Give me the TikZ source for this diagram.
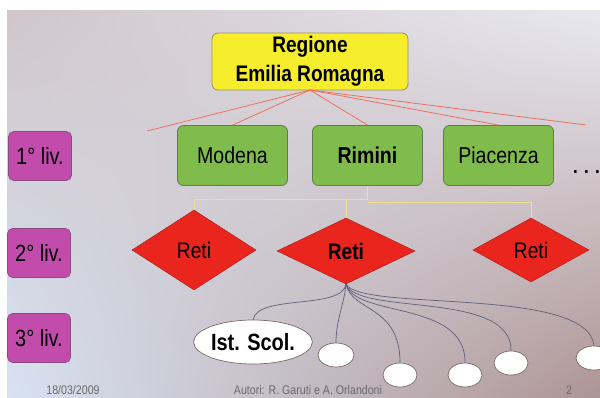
\documentclass[tikz,border=0pt]{standalone}
\usepackage{fontspec}
\setmainfont{Liberation Sans}[FakeStretch=0.85]
\usetikzlibrary{shapes.geometric,shadings}
\definecolor{bgUL}{HTML}{D0C6CA}
\definecolor{bgUR}{HTML}{E8E8F0}
\definecolor{bgLL}{HTML}{D8E2F2}
\definecolor{bgLR}{HTML}{AE9494}
\definecolor{regfill}{HTML}{F6EE2C}
\definecolor{regdraw}{HTML}{9A9060}
\definecolor{grfill}{HTML}{80BC4C}
\definecolor{grdraw}{HTML}{5E7A50}
\definecolor{mgfill}{HTML}{C24CAC}
\definecolor{mgdraw}{HTML}{8A4A80}
\definecolor{rdfill}{HTML}{EA251E}
\definecolor{rdline}{HTML}{EE7060}
\definecolor{ylline}{HTML}{EDE090}
\definecolor{cvline}{HTML}{5E6078}
\definecolor{eldraw}{HTML}{7A6A62}
\definecolor{foot}{HTML}{6A6A6A}
\tikzset{
  regbox/.style={draw=regdraw, fill=regfill, rounded corners=6pt, line width=0.8pt,
    minimum width=196pt, minimum height=57pt, align=center, font=\fontsize{22.5}{29}\selectfont\bfseries, inner sep=0pt},
  cbox/.style={draw=grdraw, fill=grfill, rounded corners=6pt, line width=0.8pt,
    minimum width=110pt, minimum height=60pt, font=\fontsize{23}{24}\selectfont, inner sep=0pt},
  lvbox/.style={draw=mgdraw, fill=mgfill, rounded corners=5pt, line width=0.6pt,
    minimum width=63pt, minimum height=49pt, font=\fontsize{23.5}{24}\selectfont, inner sep=0pt},
  rete/.style={diamond, draw=rdfill!70!black, fill=rdfill, line width=0.4pt, inner sep=0pt,
    font=\fontsize{22.5}{24}\selectfont},
  scuola/.style={ellipse, draw=eldraw, fill=white, line width=0.7pt, inner sep=0pt},
  rline/.style={draw=rdline, line width=0.8pt},
  yline/.style={draw=ylline, line width=0.7pt},
  cline/.style={draw=cvline, line width=0.7pt},
  foottext/.style={text=foot, font=\fontsize{12.5}{15}\selectfont, anchor=base}
}
\begin{document}
\begin{tikzpicture}[x=1pt,y=-1pt]
\useasboundingbox (0,0) rectangle (600,397);
\clip (0,0) rectangle (600,397);
\fill[white] (0,0) rectangle (600,397);
\shade[upper left=bgUL, upper right=bgUR, lower left=bgLL, lower right=bgLR] (7,10) rectangle (600,397);

% level labels
\node[lvbox] (l1) at (40,156) {1° liv.};
\node[lvbox] (l2) at (39,253) {2° liv.};
\node[lvbox] (l3) at (39,338) {3° liv.};

% region
\node[regbox] (reg) at (310,61.5) {Regione\\Emilia Romagna};

% provinces
\node[cbox] (mod) at (232.5,155.5) {Modena};
\node[cbox, font=\fontsize{23}{24}\selectfont\bfseries] (rim) at (367.5,155.5) {Rimini};
\node[cbox] (pia) at (498.5,155.5) {Piacenza};
\node[anchor=base west, font=\fontsize{20}{22}\selectfont\bfseries, inner sep=0pt] (dots) at (573,173) {. . .};

% red lines
\coordinate (rl) at (147,131);
\coordinate (rr) at (586,125);
\coordinate (ro) at (310,90);
\draw[rline] (ro) -- (rl);
\draw[rline] (ro) -- (mod.north);
\draw[rline] (ro) -- (rim.north);
\draw[rline] (ro) -- (pia.north);
\draw[rline] (ro) -- (rr);

% networks
\node[rete, minimum width=124pt, minimum height=80pt] (r1) at (194,250) {Reti};
\node[rete, minimum width=138pt, minimum height=66pt, font=\fontsize{22.5}{24}\selectfont\bfseries] (r2) at (346,251) {Reti};
\node[rete, minimum width=116pt, minimum height=64pt] (r3) at (531,250) {Reti};

% yellow connectors
\draw[yline] (rim.south) -- ++(0,13) -| (r1.north);
\draw[yline] (r2.north) -- ++(0,-20);
\draw[yline] (rim.south) ++(0,16) -| (r3.north);

% schools
\node[scuola, minimum width=96pt, minimum height=44pt, font=\fontsize{23.5}{24}\selectfont\bfseries] (s0) at (253,342) {Ist. Scol.};
\node[scuola, minimum width=36pt, minimum height=24pt] (s1) at (336,355) {};
\node[scuola, minimum width=34pt, minimum height=24pt] (s2) at (400,375) {};
\node[scuola, minimum width=34pt, minimum height=24pt] (s3) at (465,375) {};
\node[scuola, minimum width=34pt, minimum height=24pt] (s4) at (511,363) {};
\node[scuola, minimum width=36pt, minimum height=24pt] (s5) at (594,358) {};

\draw[cline] (r2.south) .. controls (342,310) and (258,294) .. (s0.north);
\draw[cline] (r2.south) .. controls (344,305) and (336,320) .. (s1.north);
\draw[cline] (r2.south) .. controls (352,312) and (400,305) .. (s2.north);
\draw[cline] (r2.south) .. controls (355,318) and (466,300) .. (s3.north);
\draw[cline] (r2.south) .. controls (358,316) and (512,290) .. (s4.north);
\draw[cline] (r2.south) .. controls (362,312) and (588,286) .. (s5.north);

% footer
\node[foottext] (f1) at (73,394.5) {18/03/2009};
\node[foottext] (f2) at (308,394.5) {Autori: R. Garuti e A. Orlandoni};
\node[foottext] (f3) at (569,394.5) {2};
\end{tikzpicture}
\end{document}
